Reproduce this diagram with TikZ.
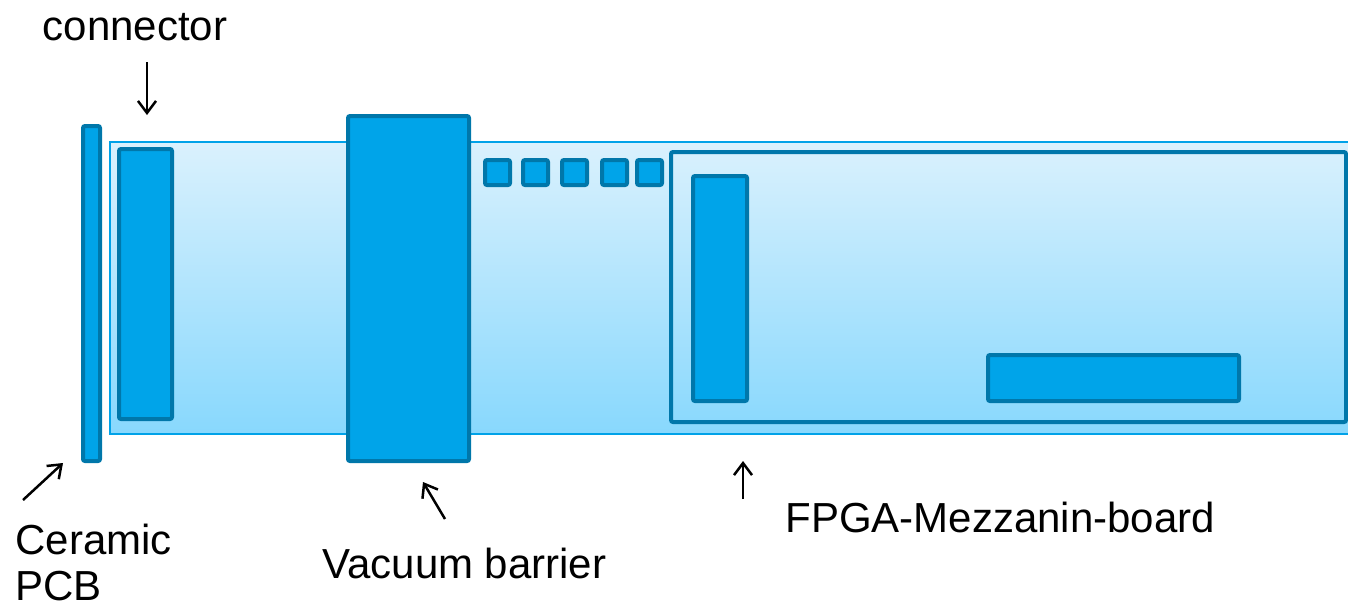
\documentclass[tikz,border=0pt]{standalone}
\usepackage{fontspec}
\setmainfont{Liberation Sans}
\usetikzlibrary{arrows.meta}

\definecolor{chipfill}{HTML}{00A4E9}
\definecolor{chipline}{HTML}{0077AA}
\definecolor{boardline}{HTML}{00A2E8}
\definecolor{boardtop}{HTML}{DAF1FD}
\definecolor{boardbot}{HTML}{88D8FD}

\tikzset{
    chip/.style={draw=chipline, fill=chipfill, line width=2pt, rounded corners=1pt},
    frame/.style={draw=chipline, line width=2pt, rounded corners=1pt},
    pointer/.style={-{Straight Barb[length=6pt,width=9pt]}, line width=1.25pt},
    label/.style={inner sep=0pt, font=\fontsize{21}{23}\selectfont}
}

\begin{document}
\begin{tikzpicture}[x=0.5pt, y=-0.5pt]

    % 全体の大きさ（ピクセル単位）
    \useasboundingbox (0,0) rectangle (1348,607);

    % 基板（グラデーション）
    \shade [top color=boardtop, bottom color=boardbot] (110,142) rectangle (1348,434);
    \draw [boardline, line width=1pt] (1349,142) -- (110,142) -- (110,434) -- (1349,434);

    % セラミック基板とコネクタ
    \draw [chip] (83,126) rectangle (100,461);
    \draw [chip] (119,149) rectangle (172,419);

    % 真空隔壁
    \draw [chip] (348,116) rectangle (469,461);

    % 小さな部品
    \foreach \x in {485,523,562,602,637} {
        \draw [chip] (\x,160) rectangle ({\x+25},185);
    }

    % メザニン基板
    \draw [frame] (671,152) rectangle (1346,422);
    \draw [chip] (693,176) rectangle (747,401);
    \draw [chip] (988,355) rectangle (1239,401);

    % ラベル
    \node [label, anchor=base] (conn) at (135,40) {connector};
    \node [label, anchor=west, align=left] (ceramic) at (15,562) {Ceramic\\PCB};
    \node [label, anchor=base west] (vacuum) at (322,578) {Vacuum barrier};
    \node [label, anchor=base west] (fpga) at (785,532) {FPGA-Mezzanin-board};

    % 矢印
    \coordinate (connTail) at (147,62);
    \coordinate (connTip) at (147,115);
    \coordinate (pcbTail) at (23,500);
    \coordinate (pcbTip) at (63,463);
    \coordinate (vacTail) at (445,519);
    \coordinate (vacTip) at (423,482);
    \coordinate (fpgaTail) at (743,499);
    \coordinate (fpgaTip) at (743,461);
    \draw [pointer] (connTail) -- (connTip);
    \draw [pointer] (pcbTail) -- (pcbTip);
    \draw [pointer] (vacTail) -- (vacTip);
    \draw [pointer] (fpgaTail) -- (fpgaTip);
    %
\end{tikzpicture}
\end{document}
